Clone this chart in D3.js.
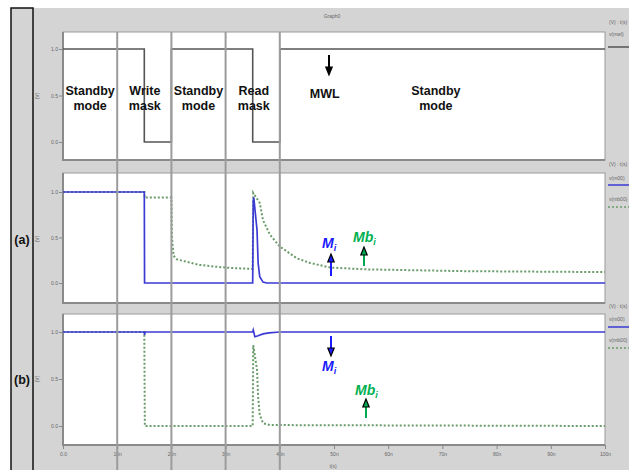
<!DOCTYPE html>
<html>
<head>
<meta charset="utf-8">
<script src="https://cdn.jsdelivr.net/npm/d3@7"></script>
<style>
  body { margin: 0; background: #fff; }
  text { font-family: "Liberation Sans", Arial, sans-serif; }
  .tiny { font-size: 5px; fill: #666; }
  .mode { font-size: 12.5px; font-weight: bold; fill: #111; }
  .sym { font-size: 14px; font-weight: bold; font-style: italic; }
</style>
</head>
<body>
<svg id="chart" width="629" height="470"></svg>
<script>
// time axis (ns)
const xTicks = [0, 10, 20, 30, 40, 50, 60, 70, 80, 90, 100];
const xTickLabels = ["0.0", "10n", "20n", "30n", "40n", "50n", "60n", "70n", "80n", "90n", "100n"];
const yTicks = [0, 0.5, 1];
const yTickLabels = ["0.0", "0.5", "1.0"];
const modeEdges = [10, 20, 30, 40];

// MWL
const mwlT = [0, 15, 15, 20, 20, 35, 35, 40, 40, 100];
const mwlV = [1, 1, 0, 0, 1, 1, 0, 0, 1, 1];

// (a) Mi / Mbi
const aMiT = [0, 15, 15.05, 35, 35.1, 35.2, 35.8, 36.0, 36.3, 36.9, 37.6, 100];
const aMiV = [1, 1, 0, 0, 0.9, 0.94, 0.58, 0.22, 0.07, 0.01, 0, 0];
const aMbT = [0, 15, 15.05, 20, 20.1, 20.4, 21, 23, 25, 28, 31, 35, 35.1, 36.3, 36.9, 38.2, 40, 43.2, 45.6, 49.3, 56, 65, 74.5, 100];
const aMbV = [1, 1, 0.94, 0.94, 0.5, 0.3, 0.26, 0.23, 0.2, 0.18, 0.165, 0.155, 0.99, 0.88, 0.69, 0.53, 0.4, 0.27, 0.22, 0.17, 0.15, 0.14, 0.13, 0.12];

// (b) Mi / Mbi
const bMiT = [0, 15, 15.05, 15.15, 35, 35.1, 35.4, 36, 36.9, 38, 40, 100];
const bMiV = [1, 1, 0.97, 1, 1, 1.02, 0.95, 0.96, 0.98, 0.99, 1, 1];
const bMbT = [0, 15, 15.1, 35, 35.1, 35.8, 36.0, 36.3, 36.9, 38.2, 100];
const bMbV = [1, 1, 0, 0, 0.86, 0.6, 0.31, 0.12, 0.03, 0.01, 0];

// text on the top panel
const modeT = [5, 15.1, 25, 35.2, 48.3, 68.8];
const modeText = [["Standby", "mode"], ["Write", "mask"], ["Standby", "mode"], ["Read", "mask"], ["MWL"], ["Standby", "mode"]];

const blue = "#3b3bd4", green = "#6a9c6a";
const dots = "2,2";

const svg = d3.select("#chart");

// window chrome
svg.append("rect").attr("x", 33).attr("y", 8).attr("width", 596).attr("height", 462).attr("fill", "#d4d4d4");
svg.append("rect").attr("x", 11).attr("y", 8).attr("width", 22).attr("height", 470)
  .attr("fill", "#d4d4d4").attr("stroke", "#111").attr("stroke-width", 1.5);
svg.append("text").attr("class", "tiny").attr("x", 332).attr("y", 18).attr("text-anchor", "middle").text("Graph0");

const x = d3.scaleLinear().domain([0, 100]).range([63, 605]);

const panels = [
  {top: 32, bottom: 160, y1: 49, y0: 142, tag: null, ylab: 96,
   series: [{t: mwlT, v: mwlV, color: "#555", dash: null, w: 1.6}],
   legend: [{y: 22, txt: "(V) : t(s)"}, {y: 34, txt: "v(mwl)", line: 47, color: "#555"}]},
  {top: 173, bottom: 303, y1: 192, y0: 283, tag: "(a)", ylab: 239,
   series: [{t: aMbT, v: aMbV, color: green, dash: dots, w: 2},
            {t: aMiT, v: aMiV, color: blue, dash: null, w: 1.7}],
   legend: [{y: 164, txt: "(V) : t(s)"}, {y: 178, txt: "v(m00)", line: 185, color: blue},
            {y: 199, txt: "v(mb00)", line: 207, color: green, dash: dots}]},
  {top: 314, bottom: 445, y1: 332, y0: 426, tag: "(b)", ylab: 379,
   series: [{t: bMbT, v: bMbV, color: green, dash: dots, w: 2},
            {t: bMiT, v: bMiV, color: blue, dash: null, w: 1.7}],
   legend: [{y: 306, txt: "(V) : t(s)"}, {y: 319, txt: "v(m00)", line: 327, color: blue},
            {y: 340, txt: "v(mb00)", line: 348, color: green, dash: dots}]}
];

panels.forEach(p => {
  const y = d3.scaleLinear().domain([0, 1]).range([p.y0, p.y1]);
  const g = svg.append("g");

  g.append("rect").attr("x", x(0)).attr("y", p.top).attr("width", x(100) - x(0)).attr("height", p.bottom - p.top)
    .attr("fill", "#fff").attr("stroke", "#999").attr("stroke-width", 1);
  // heavier left / bottom frame
  g.append("path").attr("d", `M${x(0)},${p.top}V${p.bottom}H${x(100)}`)
    .attr("fill", "none").attr("stroke", "#8a8a8a").attr("stroke-width", 2);

  const yAxis = d3.axisLeft(y).tickValues(yTicks).tickSize(3).tickPadding(1)
    .tickFormat((d, i) => yTickLabels[i]);
  const ya = g.append("g").attr("transform", `translate(${x(0) - 1},0)`).call(yAxis);
  ya.select(".domain").remove();
  ya.selectAll("line").attr("stroke", "#888");
  ya.selectAll("text").attr("class", "tiny").attr("font-size", null).attr("font-family", null);

  g.append("text").attr("class", "tiny")
    .attr("transform", `translate(39,${p.ylab}) rotate(-90)`).attr("text-anchor", "middle").text("(V)");

  if (p.tag) {
    g.append("text").attr("x", 22).attr("y", p.ylab + 5).attr("text-anchor", "middle")
      .attr("font-size", 12.5).attr("font-weight", "bold").attr("fill", "#111").text(p.tag);
  }

  p.series.forEach(s => {
    const pts = s.t.map((t, i) => [t, s.v[i]]);
    const line = d3.line().x(d => x(d[0])).y(d => y(d[1]));
    g.append("path").attr("d", line(pts)).attr("fill", "none")
      .attr("stroke", s.color).attr("stroke-width", s.w)
      .attr("stroke-dasharray", s.dash);
  });

  p.legend.forEach(l => {
    g.append("text").attr("class", "tiny").attr("x", 609).attr("y", l.y + 2).text(l.txt);
    if (l.line) {
      g.append("line").attr("x1", 608).attr("x2", 629).attr("y1", l.line).attr("y2", l.line)
        .attr("stroke", l.color).attr("stroke-width", 1.5).attr("stroke-dasharray", l.dash || null);
    }
  });
});

// bottom time axis
const xAxis = d3.axisBottom(x).tickValues(xTicks).tickSize(4).tickPadding(3)
  .tickFormat((d, i) => xTickLabels[i]);
const xa = svg.append("g").attr("transform", "translate(0,445)").call(xAxis);
xa.select(".domain").remove();
xa.selectAll("line").attr("stroke", "#888");
xa.selectAll("text").attr("class", "tiny").attr("font-size", null).attr("font-family", null);
svg.append("text").attr("class", "tiny").attr("x", 333).attr("y", 468).attr("text-anchor", "middle").text("t(s)");

// mode separators
svg.append("g").selectAll("line").data(modeEdges).join("line")
  .attr("x1", d => x(d)).attr("x2", d => x(d)).attr("y1", 32).attr("y2", 470)
  .attr("stroke", "#9c9c9c").attr("stroke-width", 2);

// mode labels
modeText.forEach((lines, i) => {
  const t = svg.append("text").attr("class", "mode").attr("text-anchor", "middle");
  if (lines.length === 1) {
    t.append("tspan").attr("x", x(modeT[i])).attr("y", 98).text(lines[0]);
  } else {
    lines.forEach((s, j) => t.append("tspan").attr("x", x(modeT[i])).attr("y", 95 + j * 15).text(s));
  }
});

// arrows
function arrow(px, yFrom, yTo, color) {
  const dir = yTo > yFrom ? 1 : -1;
  const hl = 8, hw = 3.2;
  svg.append("line").attr("x1", px).attr("x2", px).attr("y1", yFrom).attr("y2", yTo - dir * hl)
    .attr("stroke", color).attr("stroke-width", 2);
  svg.append("path")
    .attr("d", `M${px},${yTo}L${px - hw},${yTo - dir * hl}L${px + hw},${yTo - dir * hl}Z`)
    .attr("fill", color).attr("stroke", "#000").attr("stroke-width", 1.2);
}
arrow(329, 55, 75, "#000");
arrow(331, 276, 254, "#1a1aff");
arrow(364, 266, 247, "#00a850");
arrow(331, 336, 356, "#1a1aff");
arrow(366, 418, 399, "#00a850");

// symbol labels
function sym(px, py, base, color) {
  const t = svg.append("text").attr("class", "sym").attr("x", px).attr("y", py).attr("fill", color);
  t.append("tspan").text(base);
  t.append("tspan").attr("dy", 3).attr("font-size", 9).text("i");
}
sym(322, 248, "M", "#1a1aff");
sym(353, 242, "Mb", "#00b050");
sym(322, 371, "M", "#1a1aff");
sym(355, 395, "Mb", "#00b050");
</script>
</body>
</html>
